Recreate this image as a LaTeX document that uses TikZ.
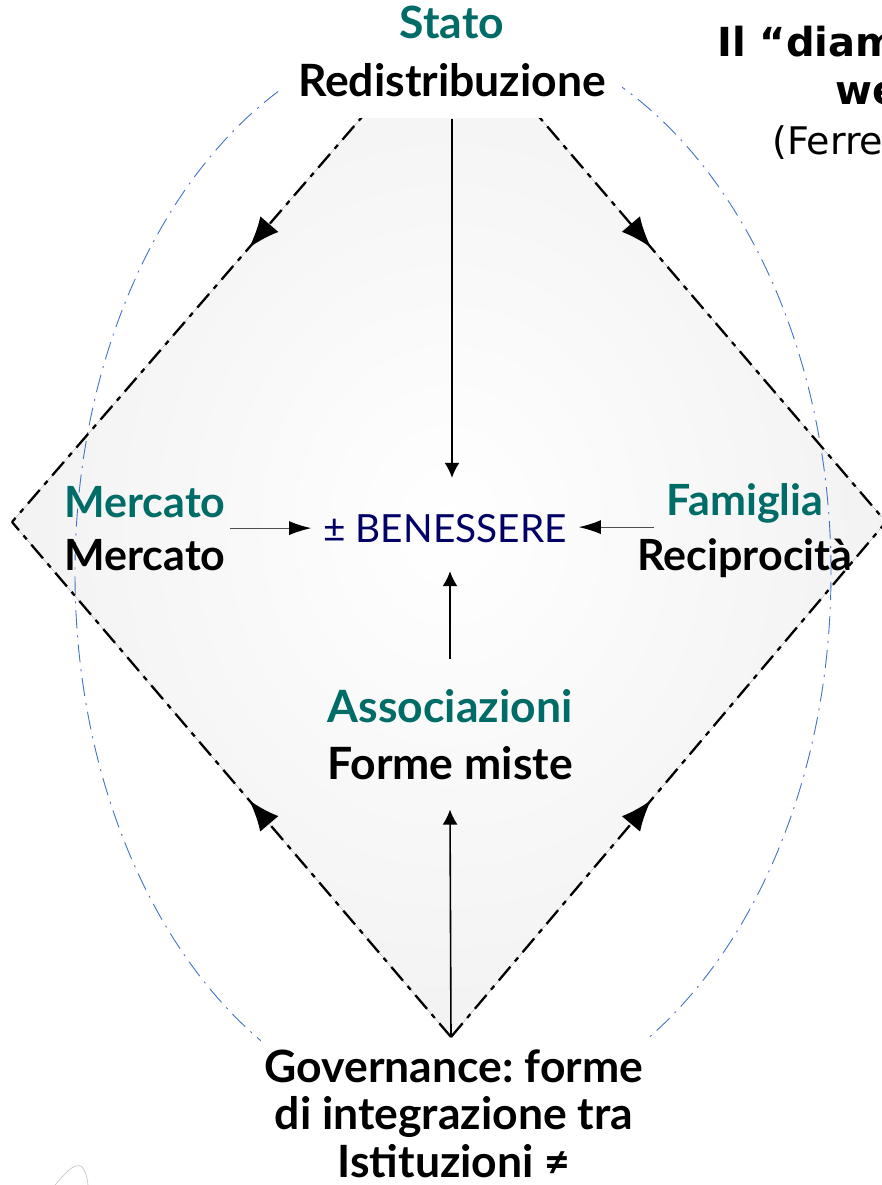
\documentclass[tikz,border=0pt]{standalone}
\usepackage{fontspec}
\setmainfont{Lato}
\newfontfamily\titlefont{DejaVu Sans}
\usepackage{tikz}
\usetikzlibrary{arrows.meta}
\usetikzlibrary{decorations.markings}

\definecolor{sectorcol}{RGB}{0,108,103}
\definecolor{wellcol}{RGB}{0,0,102}
\definecolor{ringcol}{RGB}{68,114,196}

\begin{document}
\frenchspacing
\begin{tikzpicture}[x=1pt,y=-1pt,
	lbl/.style={font=\fontsize{44}{48}\selectfont\bfseries,align=center,inner sep=4pt},
	cover/.style={fill=white},
	midarrow/.style={-{Latex[length=15pt,width=15pt]},line width=1.6pt},
	sidearrow/.style={-{Latex[length=22pt,width=14pt,color=black]},draw=black!70,line width=1.2pt}]
\clip (0,0) rectangle (882,1185);

\coordinate (top) at (451,14);
\coordinate (left) at (12,522);
\coordinate (bottom) at (451,1037);
\coordinate (right) at (886,522);

\fill [shading=radial,inner color=white,outer color=black!5] (top) -- (left) -- (bottom) -- (right) -- cycle;

\draw [ringcol,line width=0.9pt,dash pattern=on 18pt off 7pt on 2pt off 7pt] (453,573) ellipse [x radius=378pt,y radius=543pt];

\begin{scope}[decoration={
	markings,
	mark=at position 0.46 with {\arrow{Latex[length=31pt,width=24pt]}}},
	line width=2.3pt,dash pattern=on 18pt off 7pt on 5pt off 7pt]
\draw [-,postaction={decorate}] (top) to (left);
\draw [-,postaction={decorate}] (top) to (right);
\draw [-,postaction={decorate}] (bottom) to (left);
\draw [-,postaction={decorate}] (bottom) to (right);
\end{scope}

\draw (452,97) node[lbl,cover,anchor=base,inner xsep=16pt,inner ysep=21pt,font=\fontsize{44.5}{58}\selectfont\bfseries] (stato) {\textcolor{sectorcol}{Stato}\\Redistribuzione};
\draw (145,570) node[lbl,anchor=base,font=\fontsize{43}{53}\selectfont\bfseries] (mercato) {\textcolor{sectorcol}{Mercato}\\Mercato};
\draw (745,570) node[lbl,anchor=base,font=\fontsize{43}{55}\selectfont\bfseries] (famiglia) {\textcolor{sectorcol}{Famiglia}\\Reciprocità};
\draw (450,779) node[lbl,anchor=base,inner ysep=30pt,font=\fontsize{44.5}{57}\selectfont\bfseries] (assoc) {\textcolor{sectorcol}{Associazioni}\\Forme miste};
\draw (454,1177) node[lbl,cover,anchor=base,inner ysep=9pt,font=\fontsize{44.5}{47.5}\selectfont\bfseries] (gov) {Governance: forme\\di integrazione tra\\Istituzioni ≠};
\draw (445,542) node[anchor=base,inner xsep=12pt,inner ysep=29pt,text height=35pt,text depth=0pt,text=wellcol,font=\fontsize{38.8}{44}\selectfont] (wellbeing) {± BENESSERE};

\draw [midarrow] (stato.south) -- (stato.south |- wellbeing.north);
\draw [midarrow] (assoc.north) -- (assoc.north |- wellbeing.south);
\draw [midarrow] (bottom) -- (assoc.south);
\draw [sidearrow] (mercato.east) -- (mercato.east -| wellbeing.west);
\draw [sidearrow] ([xshift=21pt,yshift=3pt]famiglia.west) -- ([yshift=3pt]famiglia.west -| wellbeing.east);

%\draw (0,0) rectangle (882,1185);
\draw (717,57) node[anchor=base west,inner sep=0pt,font=\titlefont\bfseries\fontsize{40}{48}\selectfont] (title) {Il “diam};
\draw (835,105) node[anchor=base west,inner sep=0pt,font=\titlefont\bfseries\fontsize{40}{48}\selectfont] (titleb) {we};
\draw (772,155) node[anchor=base west,inner sep=0pt,font=\titlefont\fontsize{38}{44}\selectfont] (source) {(Ferre};

\draw [black!20,line width=0.8pt] (55,1185) .. controls (68,1170) and (84,1150) .. (88,1185);

\end{tikzpicture}
\end{document}
